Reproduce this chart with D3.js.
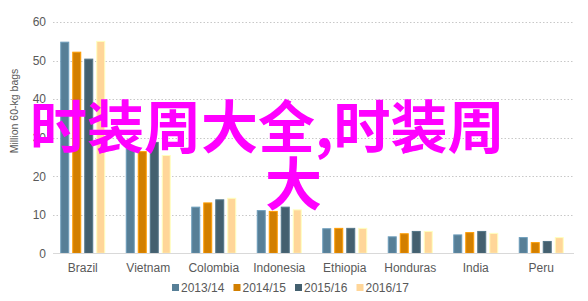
<!DOCTYPE html>
<html>
<head>
<meta charset="utf-8">
<script src="https://cdn.jsdelivr.net/npm/d3@7"></script>
<style>
  body { margin: 0; background: #fff; }
  svg { display: block; font-family: "Liberation Sans", Arial, sans-serif; }
</style>
</head>
<body>
<div id="chart"></div>
<script>
// data (million 60-kg bags)
const countries = ["Brazil", "Vietnam", "Colombia", "Indonesia", "Ethiopia", "Honduras", "India", "Peru"];
const seasons = ["2013/14", "2014/15", "2015/16", "2016/17"];
const v1314 = [54.9, 27.6, 12.1, 11.2, 6.5, 4.4, 4.9, 4.2];
const v1415 = [52.3, 26.5, 13.2, 11.0, 6.6, 5.2, 5.5, 2.9];
const v1516 = [50.5, 28.9, 14.0, 12.1, 6.6, 5.8, 5.8, 3.2];
const v1617 = [55.1, 25.5, 14.4, 11.4, 6.6, 5.8, 5.3, 4.2];
const colors = ["#577f97", "#d27f00", "#44606f", "#ffd699"];
const yTicks = [0, 10, 20, 30, 40, 50, 60];
const overlayLines = ["时装周大全,时装周", "大"];

const seriesVals = [v1314, v1415, v1516, v1617];
const data = countries.map((c, i) => ({
  country: c,
  vals: seasons.map((s, j) => ({ season: s, value: seriesVals[j][i] }))
}));

const W = 588, H = 301;
const svg = d3.select("#chart").append("svg").attr("width", W).attr("height", H);

// SCALES
const x = d3.scaleBand().domain(countries).range([50, 574]).padding(0);
const xInner = d3.scaleBand().domain(seasons).range([-22.5, 22.5]).paddingInner(0.25);
const y = d3.scaleLinear().domain([0, 60]).range([253.3, 22]);
const color = d3.scaleOrdinal().domain(seasons).range(colors);

// gridlines (dotted)
svg.append("g")
  .selectAll("line")
  .data(yTicks.filter(t => t > 0))
  .enter().append("line")
  .attr("x1", 53).attr("x2", 574)
  .attr("y1", d => Math.round(y(d)) + 0.5)
  .attr("y2", d => Math.round(y(d)) + 0.5)
  .attr("stroke", "#c8c8c8")
  .attr("stroke-dasharray", "1.5,2");

// y axis tick labels
const yAxis = svg.append("g")
  .attr("transform", "translate(46,0)")
  .call(d3.axisLeft(y).tickValues(yTicks).tickSize(0).tickPadding(0));
yAxis.select(".domain").remove();
yAxis.selectAll("text").attr("font-size", 12).attr("fill", "#595959")
  .attr("font-family", "Liberation Sans, Arial, sans-serif");

// bars
svg.append("g")
  .selectAll("g")
  .data(data)
  .enter().append("g")
  .attr("transform", d => "translate(" + (x(d.country) + x.bandwidth() / 2) + ",0)")
  .selectAll("rect")
  .data(d => d.vals)
  .enter().append("rect")
  .attr("x", d => xInner(d.season) + 0.5)
  .attr("y", d => y(d.value) + 0.5)
  .attr("width", xInner.bandwidth() - 1)
  .attr("height", d => y(0) - y(d.value) - 0.5)
  .attr("fill", d => color(d.season))
  .attr("stroke", d => d3.color(color(d.season)).brighter(0.6))
  .attr("stroke-width", 1);

// x axis
const xAxis = svg.append("g")
  .attr("transform", "translate(0," + 253.5 + ")")
  .call(d3.axisBottom(x).tickSize(0).tickPadding(10));
xAxis.select(".domain").attr("stroke", "#d9d9d9").attr("d", "M53,0H574");
xAxis.selectAll("text").attr("font-size", 12).attr("fill", "#595959")
  .attr("font-family", "Liberation Sans, Arial, sans-serif");

// y axis title
svg.append("text")
  .attr("transform", "translate(18,111) rotate(-90)")
  .attr("text-anchor", "middle")
  .attr("font-size", 10.5)
  .attr("fill", "#595959")
  .text("Million 60-kg bags");

// legend
const legend = svg.append("g").attr("transform", "translate(172,288)");
const item = legend.selectAll("g")
  .data(seasons)
  .enter().append("g")
  .attr("transform", (d, i) => "translate(" + (i * 61.5) + ",0)");
item.append("rect")
  .attr("x", 0).attr("y", -4)
  .attr("width", 7).attr("height", 7)
  .attr("fill", d => color(d));
item.append("text")
  .attr("x", 9).attr("y", 0)
  .attr("dy", "0.35em")
  .attr("font-size", 12)
  .attr("fill", "#595959")
  .text(d => d);

// overlaid watermark text
svg.append("g")
  .selectAll("text")
  .data(overlayLines)
  .enter().append("text")
  .attr("x", (d, i) => i === 0 ? 30 : 265)
  .attr("y", (d, i) => 148 + i * 57)
  .attr("font-family", "Noto Sans CJK SC, sans-serif")
  .attr("font-weight", "bold")
  .attr("font-size", 57)
  .attr("fill", "#ff00ff")
  .text(d => d);
</script>
</body>
</html>
